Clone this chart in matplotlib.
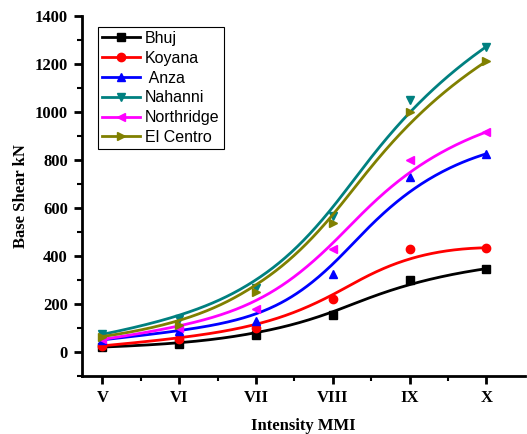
import numpy as np
import matplotlib.pyplot as plt

# intensity levels and base shear (kN) for each record
intensity = ['V', 'VI', 'VII', 'VIII', 'IX', 'X']
bhuj = [20, 32, 71, 155, 300, 347]
koyana = [25, 55, 99, 222, 428, 434]
anza = [50, 86, 127, 325, 728, 826]
nahanni = [73, 138, 265, 568, 1049, 1273]
northridge = [52, 100, 180, 430, 798, 917]
elcentro = [64, 110, 250, 536, 1001, 1212]

names = ['Bhuj', 'Koyana', ' Anza', 'Nahanni', 'Northridge', 'El Centro']
colors = ['black', '#FF0000', '#0000FF', '#008080', '#FF00FF', '#808000']
markers = ['s', 'o', '^', 'v', '<', '>']


def bspline(px, py, k=3, n=300):
    # clamped B-spline with the points as control points (Origin "B-Spline" connect)
    m = len(px)
    knots = np.concatenate([np.zeros(k), np.linspace(0, 1, m - k + 1), np.ones(k)])
    t = np.linspace(0, 1, n)
    t[-1] -= 1e-9
    B = np.zeros((n, len(knots) - 1))
    for i in range(len(knots) - 1):
        B[:, i] = (knots[i] <= t) & (t < knots[i + 1])
    for d in range(1, k + 1):
        Bn = np.zeros((n, len(knots) - 1 - d))
        for i in range(len(knots) - 1 - d):
            a = knots[i + d] - knots[i]
            b = knots[i + d + 1] - knots[i + 1]
            if a > 0:
                Bn[:, i] += (t - knots[i]) / a * B[:, i]
            if b > 0:
                Bn[:, i] += (knots[i + d + 1] - t) / b * B[:, i + 1]
        B = Bn
    return B @ np.asarray(px, float), B @ np.asarray(py, float)


fig = plt.figure(figsize=(5.27, 4.34), dpi=100)
ax = fig.add_axes([0.155, 0.134, 0.841, 0.829])

x = np.arange(5, 11)
series = [bhuj, koyana, anza, nahanni, northridge, elcentro]
for ys, name, c, mk in zip(series, names, colors, markers):
    sx, sy = bspline(x, ys)
    ax.plot(sx, sy, color=c, lw=2)
    ax.plot(x, ys, ls='none', marker=mk, color=c, ms=6)
    ax.plot([], [], color=c, lw=2, marker=mk, ms=6, label=name)

ax.set_xlim(4.73, 10.5)
ax.set_ylim(-100, 1400)
ax.set_xticks(x)
ax.set_xticklabels(intensity)
ax.set_xticks(np.arange(5.5, 10.5, 1), minor=True)
ax.set_yticks(np.arange(0, 1401, 200))
ax.set_yticks(np.arange(-100, 1400, 200), minor=True)

for s in ['top', 'right']:
    ax.spines[s].set_visible(False)
for s in ['left', 'bottom']:
    ax.spines[s].set_linewidth(2)
ax.tick_params(which='major', direction='out', length=6, width=2, pad=4)
ax.tick_params(which='minor', direction='out', length=3.5, width=1.5)
for lab in ax.get_xticklabels() + ax.get_yticklabels():
    lab.set_fontfamily('Liberation Serif')
    lab.set_fontweight('bold')
    lab.set_fontsize(12)

ax.set_xlabel('Intensity MMI', family='Liberation Serif', fontweight='bold',
              fontsize=12, labelpad=9)
ax.set_ylabel('Base Shear kN', family='Liberation Serif', fontweight='bold',
              fontsize=12, labelpad=4)

leg = ax.legend(loc='upper left', bbox_to_anchor=(98 / 527, 1 - 27 / 434),
                bbox_transform=fig.transFigure, borderaxespad=0,
                prop={'family': 'Liberation Sans', 'size': 11.5},
                handlelength=2.4, fancybox=False, edgecolor='black',
                framealpha=1, labelspacing=0.3, borderpad=0.25, handletextpad=0.3)
leg.get_frame().set_linewidth(0.8)

fig.savefig('out.png', dpi=100)
